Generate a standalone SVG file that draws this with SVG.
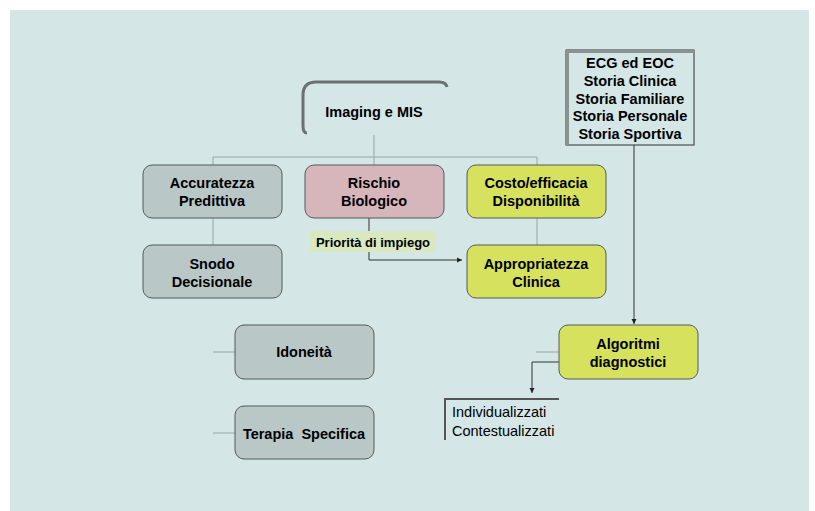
<svg xmlns="http://www.w3.org/2000/svg" width="815" height="511" viewBox="0 0 815 511">
<style>
text{font-family:"Liberation Sans",Arial,sans-serif;fill:#000;text-anchor:middle}
.b{font-weight:bold;font-size:14.5px}
.box{stroke:#555a5a;stroke-width:1}
.gray{fill:#b9c7c7}
.pink{fill:#d6b6ba}
.yel{fill:#d6e15e}
.con{fill:none;stroke:#98a6a6;stroke-width:1}
.dark{fill:none;stroke:#333;stroke-width:1}
</style>
<defs>
<marker id="ah" markerWidth="6" markerHeight="6" refX="5" refY="3" orient="auto" markerUnits="userSpaceOnUse">
<path d="M0,0.5 L5,3 L0,5.5 Z" fill="#222"/>
</marker>
</defs>
<rect x="0" y="0" width="815" height="511" fill="#fff"/>
<rect x="10" y="10" width="799" height="501" fill="#d4e6e6"/>

<g id="connectors">
<path class="con" d="M374,135 V157 M213,157 H537 M213,157 V165 M374,157 V165 M537,157 V165"/>
<path class="con" d="M213,218 V245 M537,218 V245"/>
<path class="dark" d="M369,218 V260 H462" marker-end="url(#ah)"/>
<path class="dark" d="M634,145 V324" marker-end="url(#ah)"/>
<path class="con" d="M559,352 H536"/>
<path class="dark" d="M559,362 H532 V393" marker-end="url(#ah)"/>
<path class="con" d="M235,352 H213 M235,433 H213"/>
</g>

<g id="imaging">
<path d="M307,133 Q303,133 303,126 L303,95 Q303,82 316,82 L439,82 Q446,82 447,87" fill="none" stroke="#6b7070" stroke-width="3"/>
<text class="b" x="374" y="117">Imaging e MIS</text>
</g>

<g id="ecg">
<rect x="566" y="50" width="128" height="95" fill="#d4e6e6" stroke="#333" stroke-width="1"/>
<path d="M567.5,145 V51.5 H694" fill="none" stroke="#8a9292" stroke-width="3"/>
<text class="b" x="630" y="68">ECG ed EOC</text>
<text class="b" x="630" y="86">Storia Clinica</text>
<text class="b" x="630" y="104">Storia Familiare</text>
<text class="b" x="630" y="121">Storia Personale</text>
<text class="b" x="630" y="139">Storia Sportiva</text>
</g>

<g id="accuratezza">
<rect class="box gray" x="143" y="165" width="139" height="53" rx="9"/>
<text class="b" x="212" y="188">Accuratezza</text>
<text class="b" x="212" y="206">Predittiva</text>
</g>

<g id="rischio">
<rect class="box pink" x="305" y="165" width="139" height="53" rx="9"/>
<text class="b" x="374" y="188">Rischio</text>
<text class="b" x="374" y="206">Biologico</text>
</g>

<g id="costo">
<rect class="box yel" x="467" y="165" width="139" height="53" rx="9"/>
<text class="b" x="536" y="188">Costo/efficacia</text>
<text class="b" x="536" y="206">Disponibilità</text>
</g>

<g id="snodo">
<rect class="box gray" x="143" y="245" width="139" height="53" rx="9"/>
<text class="b" x="212" y="269">Snodo</text>
<text class="b" x="212" y="287">Decisionale</text>
</g>

<g id="priorita">
<rect x="310" y="231" width="126" height="21" fill="#d9e8bf"/>
<text x="373" y="246.5" style="font-weight:bold;font-size:13px">Priorità di impiego</text>
</g>

<g id="appropriatezza">
<rect class="box yel" x="467" y="245" width="139" height="53" rx="9"/>
<text class="b" x="536" y="269">Appropriatezza</text>
<text class="b" x="536" y="287">Clinica</text>
</g>

<g id="idoneita">
<rect class="box gray" x="235" y="325" width="139" height="54" rx="9"/>
<text class="b" x="304" y="357">Idoneità</text>
</g>

<g id="terapia">
<rect class="box gray" x="235" y="406" width="139" height="53" rx="9"/>
<text class="b" x="304" y="439" xml:space="preserve" style="white-space:pre">Terapia  Specifica</text>
</g>

<g id="algoritmi">
<rect class="box yel" x="559" y="325" width="139" height="54" rx="9"/>
<text class="b" x="628" y="349">Algoritmi</text>
<text class="b" x="628" y="367">diagnostici</text>
</g>

<g id="esiti">
<path d="M445,440 V399 H559" fill="none" stroke="#555" stroke-width="2"/>
<text x="452" y="417" style="font-size:14.5px;text-anchor:start">Individualizzati</text>
<text x="452" y="436" style="font-size:14.5px;text-anchor:start">Contestualizzati</text>
</g>
</svg>
